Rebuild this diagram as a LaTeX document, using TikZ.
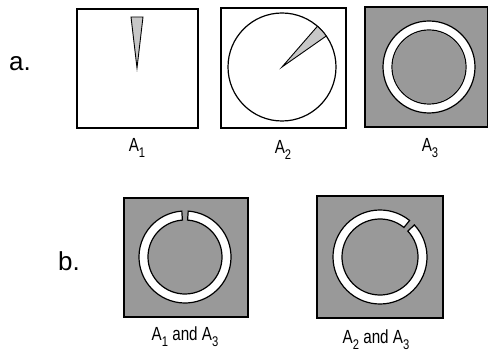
\documentclass[tikz,border=0pt]{standalone}
\usepackage{fontspec}
\setmainfont{Liberation Sans}
\newfontfamily\labfont[FakeStretch=0.8]{Liberation Sans}
\usetikzlibrary{calc}
\newcommand{\sbs}[1]{\raisebox{-0.3em}{\fontsize{14}{14}\selectfont #1}}
\tikzset{
  frame/.style={draw=black, line width=1.3pt},
  grayfill/.style={fill=black!40},
  wedgefill/.style={fill=black!22, draw=black, line width=0.9pt},
  ringline/.style={draw=black, line width=1.2pt, fill=white},
  lab/.style={font=\labfont\fontsize{19}{19}\selectfont, inner sep=0pt},
  biglab/.style={font=\fontsize{26}{26}\selectfont, inner sep=0pt},
}
\begin{document}
\begin{tikzpicture}[x=1pt,y=1pt]
\useasboundingbox (0,0) rectangle (489,353);
% labels a. b.
\node[biglab] (la) at (20,289) {a.};
\node[biglab] (lb) at (69,92) {b.};
% ---- A1
\draw[frame] (77,225) rectangle (198,344);
\coordinate (w1a) at (131,336);
\coordinate (w1b) at (143,336);
\coordinate (w1t) at (137,285);
\draw[wedgefill] (w1a) -- (w1b) -- (w1t) -- cycle;
\node[lab] (l1) at (137,205) {A\sbs{1}};
% ---- A2
\draw[frame] (221,225) rectangle (346,345);
\coordinate (c2) at (282,286);
\draw[line width=1.2pt] (c2) circle[radius=54];
\draw[wedgefill] (c2) -- ($(c2)+(35:54)$) arc[start angle=35, end angle=49, radius=54] -- cycle;
\node[lab] (l2) at (283,203) {A\sbs{2}};
% ---- A3
\draw[frame, grayfill] (365,226) rectangle (487.5,346);
\coordinate (c3) at (429,286);
\draw[ringline, even odd rule] (c3) circle[radius=46] (c3) circle[radius=37];
\fill[grayfill] (c3) circle[radius=36.4];
\node[lab] (l3) at (430,205) {A\sbs{3}};
% ---- b1
\draw[frame, grayfill] (124,36) rectangle (248,155);
\coordinate (c4) at (185,96);
\draw[ringline] ($(c4)+(94:46)$) arc[start angle=94, end angle=446, radius=46]
  -- ($(c4)+(446:37)$) arc[start angle=446, end angle=94, radius=37] -- cycle;
\node[lab] (l4) at (185,16) {A\sbs{1} and A\sbs{3}};
% ---- b2
\draw[frame, grayfill] (317,35) rectangle (443,157);
\coordinate (c5) at (380,96);
\draw[ringline] ($(c5)+(51:47)$) arc[start angle=51, end angle=403, radius=47]
  -- ($(c5)+(403:38)$) arc[start angle=403, end angle=51, radius=38] -- cycle;
\node[lab] (l5) at (376,13) {A\sbs{2} and A\sbs{3}};
\end{tikzpicture}
\end{document}
